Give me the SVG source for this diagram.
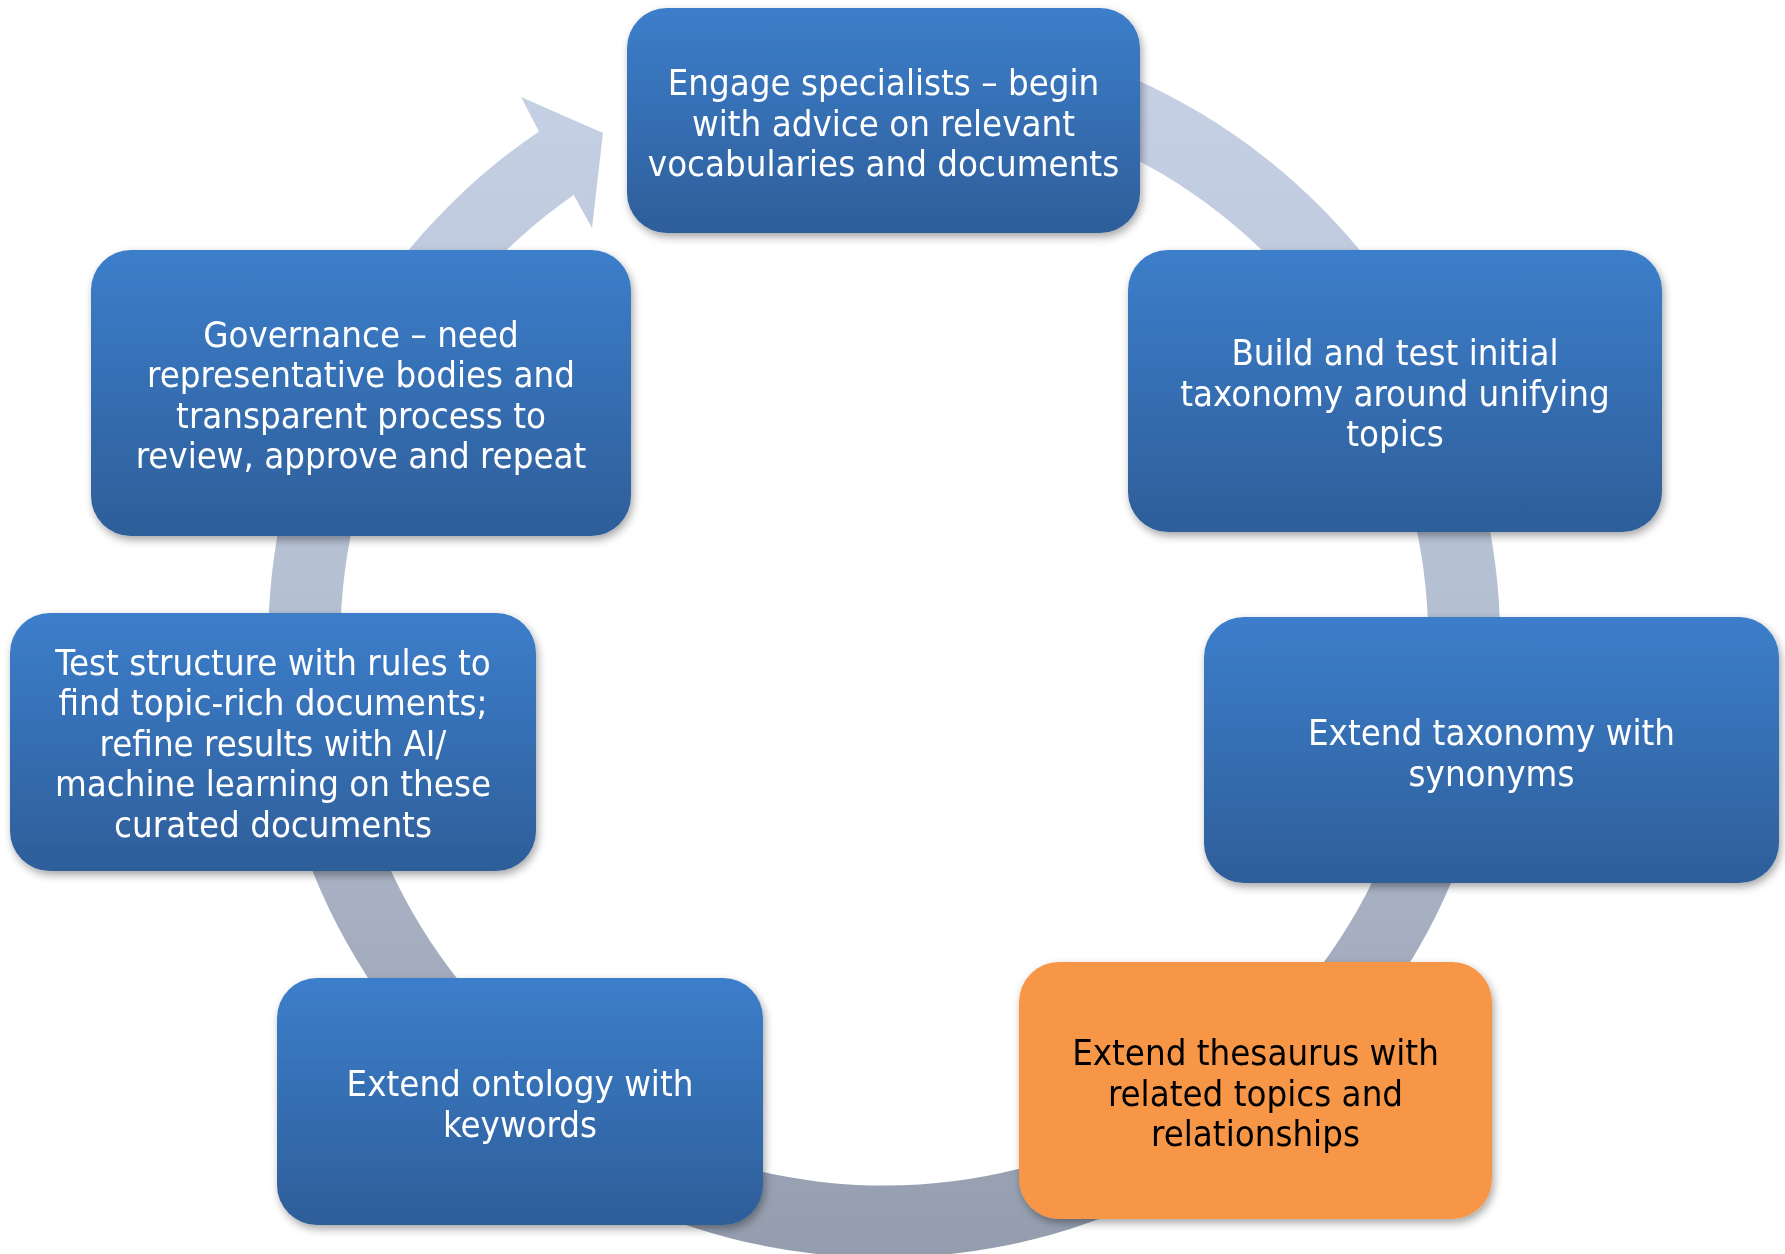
<svg xmlns="http://www.w3.org/2000/svg" width="1785" height="1254" viewBox="0 0 1785 1254">
<style>
.box{filter:url(#sh)}
.blue{fill:url(#gb)}
.orange{fill:#f79646}
.t{font-family:"DejaVu Sans Condensed","DejaVu Sans",sans-serif;font-stretch:condensed;font-size:36.3px;fill:#ffffff;text-anchor:middle}
.tk{fill:#000000}
</style>
<defs>
<linearGradient id="gb" x1="0" y1="0" x2="0" y2="1">
<stop offset="0" stop-color="#3c7ecb"/>
<stop offset="1" stop-color="#2e5e99"/>
</linearGradient>
<linearGradient id="gr" gradientUnits="userSpaceOnUse" x1="0" y1="27" x2="0" y2="1257">
<stop offset="0" stop-color="#c8d2e6"/>
<stop offset="0.5" stop-color="#b4bed1"/>
<stop offset="1" stop-color="#939dad"/>
</linearGradient>
<filter id="sh" x="-10%" y="-10%" width="120%" height="130%">
<feDropShadow dx="2" dy="4" stdDeviation="4" flood-color="#000" flood-opacity="0.35"/>
</filter>
</defs>
<rect width="1785" height="1254" fill="#ffffff"/>
<g id="connectors">
<path d="M723.6,47 A616,616 0 1 1 539,131.5 L521,97 L603,133 L592,228 L573.7,195 A544,544 0 1 0 742.2,116.5 Z" fill="url(#gr)"/>
</g>
<g id="n1" class="box">
<rect x="627" y="8" width="513" height="225" rx="40" class="blue"/>
<text class="t"><tspan x="883.5" y="95">Engage specialists – begin</tspan><tspan x="883.5" y="135.5">with advice on relevant</tspan><tspan x="883.5" y="176">vocabularies and documents</tspan></text>
</g>
<g id="n2" class="box">
<rect x="1128" y="250" width="534" height="282" rx="40" class="blue"/>
<text class="t"><tspan x="1395" y="365">Build and test initial</tspan><tspan x="1395" y="405.5">taxonomy around unifying</tspan><tspan x="1395" y="446">topics</tspan></text>
</g>
<g id="n3" class="box">
<rect x="1204" y="617" width="575" height="266" rx="40" class="blue"/>
<text class="t"><tspan x="1491.5" y="745">Extend taxonomy with</tspan><tspan x="1491.5" y="785.5">synonyms</tspan></text>
</g>
<g id="n4" class="box">
<rect x="1019" y="962" width="473" height="257" rx="40" class="orange"/>
<text class="t tk"><tspan x="1255.5" y="1065">Extend thesaurus with</tspan><tspan x="1255.5" y="1105.5">related topics and</tspan><tspan x="1255.5" y="1146">relationships</tspan></text>
</g>
<g id="n5" class="box">
<rect x="277" y="978" width="486" height="247" rx="40" class="blue"/>
<text class="t"><tspan x="520" y="1096">Extend ontology with</tspan><tspan x="520" y="1136.5">keywords</tspan></text>
</g>
<g id="n6" class="box">
<rect x="10" y="613" width="526" height="258" rx="40" class="blue"/>
<text class="t"><tspan x="273" y="674.5">Test structure with rules to</tspan><tspan x="273" y="715">find topic-rich documents;</tspan><tspan x="273" y="755.5">refine results with AI/</tspan><tspan x="273" y="796">machine learning on these</tspan><tspan x="273" y="836.5">curated documents</tspan></text>
</g>
<g id="n7" class="box">
<rect x="91" y="250" width="540" height="286" rx="40" class="blue"/>
<text class="t"><tspan x="361" y="346.5">Governance – need</tspan><tspan x="361" y="387">representative bodies and</tspan><tspan x="361" y="427.5">transparent process to</tspan><tspan x="361" y="468">review, approve and repeat</tspan></text>
</g>
</svg>
